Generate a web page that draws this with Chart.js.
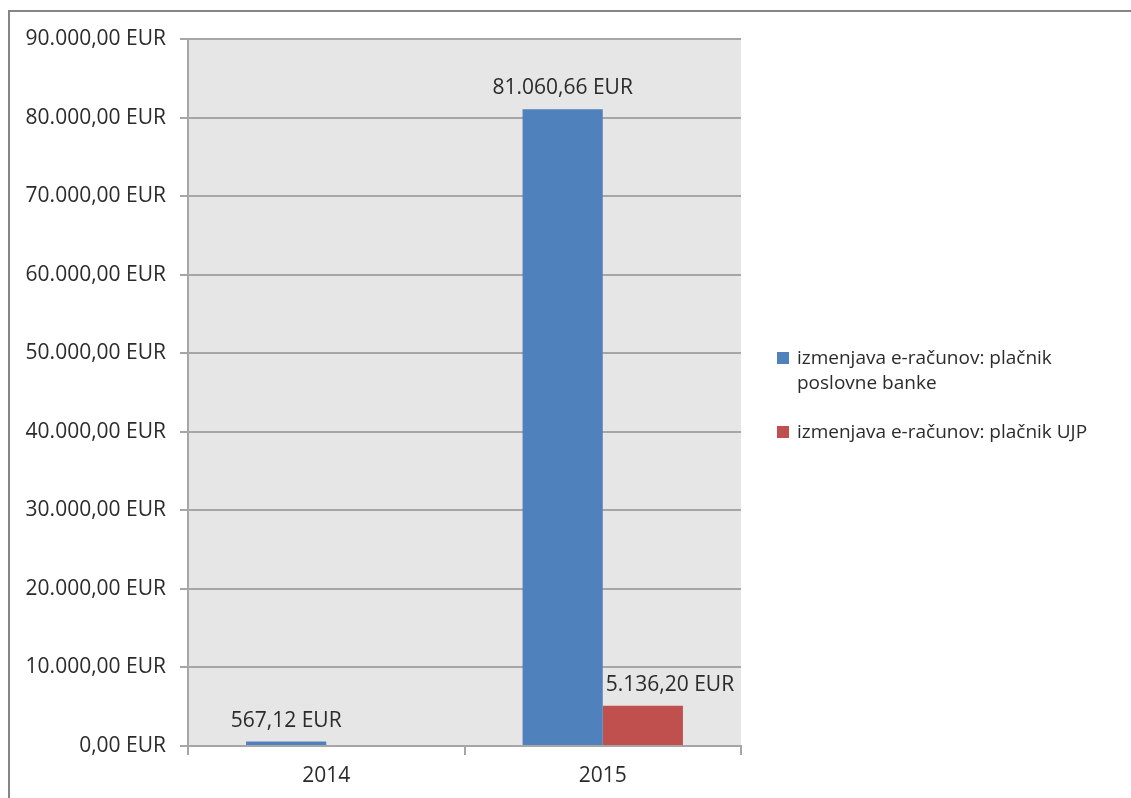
<!DOCTYPE html>
<html>
<head>
<meta charset="utf-8">
<script src="https://cdn.jsdelivr.net/npm/chart.js@4/dist/chart.umd.min.js"></script>
<style>
  body { margin: 0; background: #fff; }
  #wrap { position: relative; width: 1131px; height: 798px; overflow: hidden; }
  #frame { position: absolute; left: 8px; top: 10px; right: -4px; bottom: -4px;
           border-top: 2px solid #858585; border-left: 2px solid #858585; }
  #chart { position: absolute; left: 0; top: 0; }
  #legend { position: absolute; left: 777px; top: 345px; width: 320px;
            font-family: "Open Sans", Lato, sans-serif; font-size: 19px; color: #2b2b2b; }
  .item { position: relative; padding-left: 20px; line-height: 25px; margin-bottom: 24px; }
  .box { position: absolute; left: 0; top: 7px; width: 12px; height: 12px; }
</style>
</head>
<body>
<div id="wrap">
  <div id="frame"></div>
  <canvas id="chart" width="1131" height="798"></canvas>
  <div id="legend"></div>
</div>
<script>
// values
const years = ["2014", "2015"];
const seriesNames = [
  "izmenjava e-računov: plačnik poslovne banke",
  "izmenjava e-računov: plačnik UJP"
];
const bankValues = [567.12, 81060.66];
const ujpValues = [null, 5136.20];
const colors = ["#4f81bd", "#c0504d"];

const FONT = '"Open Sans", Lato, sans-serif';
const TEXT = "#2b2b2b";

function eur(v) {
  const parts = v.toFixed(2).split(".");
  const whole = parts[0].replace(/\B(?=(\d{3})+(?!\d))/g, ".");
  return whole + "," + parts[1] + " EUR";
}

// gray plot background
const plotBg = {
  id: "plotBg",
  beforeDraw(chart) {
    const a = chart.chartArea;
    const ctx = chart.ctx;
    ctx.save();
    ctx.fillStyle = "#e6e6e6";
    ctx.fillRect(a.left, a.top, a.right - a.left, a.bottom - a.top);
    ctx.restore();
  }
};

// value labels above the bars
const valueLabels = {
  id: "valueLabels",
  afterDatasetsDraw(chart) {
    const ctx = chart.ctx;
    ctx.save();
    ctx.font = "21px " + FONT;
    ctx.fillStyle = TEXT;
    ctx.textBaseline = "alphabetic";
    chart.data.datasets.forEach((ds, di) => {
      const meta = chart.getDatasetMeta(di);
      meta.data.forEach((bar, i) => {
        const v = ds.data[i];
        if (v == null) return;
        const text = eur(v);
        const w = ctx.measureText(text).width;
        let x = bar.x - w / 2;
        // keep clear of a taller bar on the left, like Excel does
        if (di > 0) {
          const prev = chart.getDatasetMeta(di - 1).data[i];
          const prevRight = prev.x + prev.width / 2;
          if (prev.y < bar.y - 20 && x < prevRight) x = prevRight + 3;
        }
        ctx.fillText(text, x, bar.y - 15);
      });
    });
    ctx.restore();
  }
};

const ctx = document.getElementById("chart").getContext("2d");
new Chart(ctx, {
  type: "bar",
  data: {
    labels: years,
    datasets: [
      { label: seriesNames[0], data: bankValues, backgroundColor: colors[0] },
      { label: seriesNames[1], data: ujpValues, backgroundColor: colors[1] }
    ]
  },
  options: {
    responsive: false,
    animation: false,
    layout: { padding: { top: 39, right: 390, left: 10, bottom: 0 } },
    datasets: { bar: { categoryPercentage: 0.58, barPercentage: 1 } },
    plugins: { legend: { display: false }, tooltip: { enabled: false } },
    scales: {
      x: {
        grid: { offset: true, drawOnChartArea: false, color: "#a6a6a6", lineWidth: 2, tickLength: 9 },
        border: { color: "#a6a6a6", width: 2 },
        ticks: { color: TEXT, font: { family: FONT, size: 21 }, padding: 8 },
        afterFit(scale) { scale.height = 52; }
      },
      y: {
        min: 0,
        max: 90000,
        ticks: {
          stepSize: 10000,
          color: TEXT,
          font: { family: FONT, size: 21 },
          padding: 14,
          callback: (v) => eur(v)
        },
        grid: { color: "#a6a6a6", lineWidth: 2, tickLength: 8 },
        border: { color: "#a6a6a6", width: 2 },
        afterFit(scale) { scale.width = 178; }
      }
    }
  },
  plugins: [plotBg, valueLabels]
});

// legend with wrapped text
const legend = document.getElementById("legend");
seriesNames.forEach((name, i) => {
  const item = document.createElement("div");
  item.className = "item";
  const box = document.createElement("span");
  box.className = "box";
  box.style.background = colors[i];
  item.appendChild(box);
  item.appendChild(document.createTextNode(name));
  legend.appendChild(item);
});
</script>
</body>
</html>
